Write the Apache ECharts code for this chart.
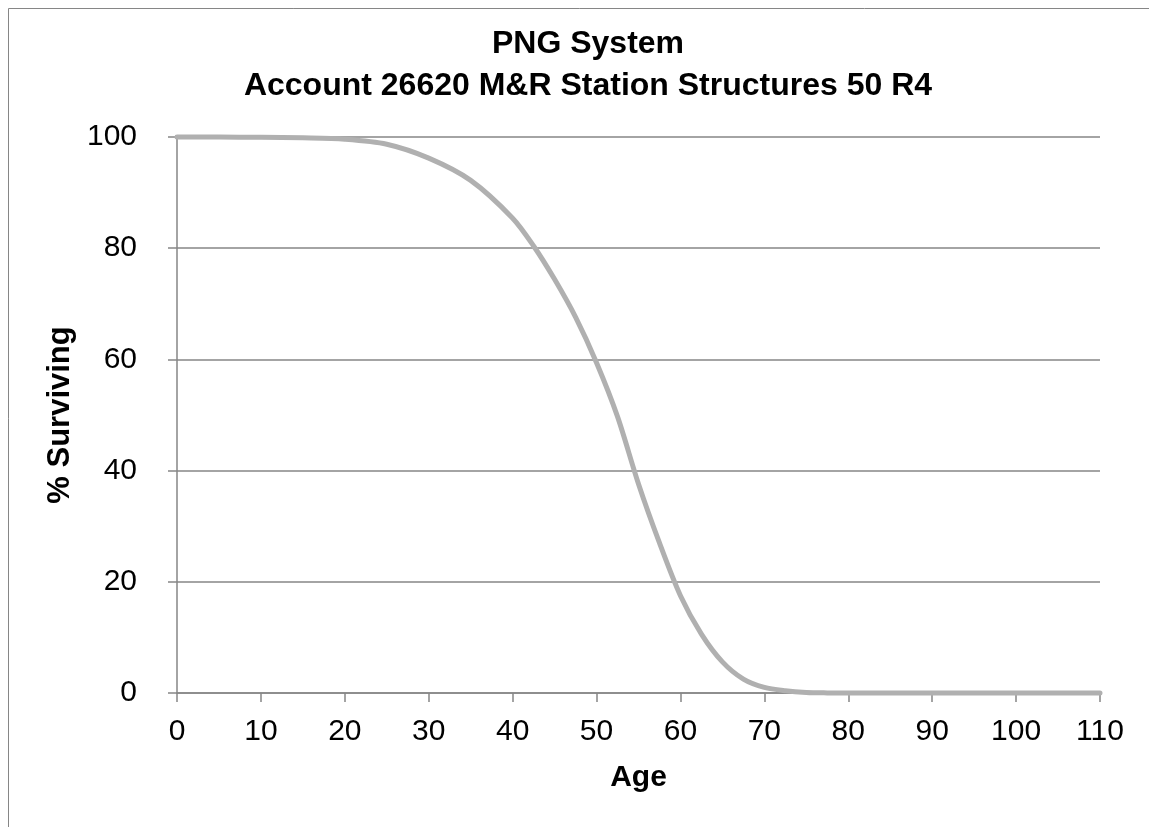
<!DOCTYPE html>
<html>
<head>
<meta charset="utf-8">
<title>PNG System - Survivor Curve</title>
<script src="https://cdn.jsdelivr.net/npm/echarts@6/dist/echarts.min.js"></script>
<style>
  html, body { margin: 0; padding: 0; background: #fff; }
  #chart { width: 1149px; height: 827px; }
</style>
</head>
<body>
<div id="chart"></div>
<script>
// age (years) and percent surviving
var ages = [0, 5, 10, 15, 20, 25, 30, 35, 40, 42.5, 45, 47.5, 50, 52.5, 55, 57.5, 60, 62.5, 65, 67.5, 70, 72.5, 75, 77.5, 80, 85, 90, 95, 100, 105, 110];
var surviving = [100, 99.98, 99.95, 99.85, 99.6, 98.7, 96.2, 92.2, 85.4, 80.4, 74.4, 67.6, 59.4, 49.7, 37.6, 27, 17.5, 10.6, 5.6, 2.5, 1, 0.4, 0.1, 0.02, 0, 0, 0, 0, 0, 0, 0];
var xTicks = [0, 110, 10];
var yTicks = [0, 100, 20];

var titleLines = ['PNG System', 'Account 26620 M&R Station Structures 50 R4'];

var points = [];
for (var i = 0; i < ages.length; i++) {
	points.push([ages[i], surviving[i]]);
}

var gray = '#868686';
var fontFam = '"Liberation Sans", Arial, sans-serif';

var chart = echarts.init(document.getElementById('chart'));
chart.setOption({
	animation: false,
	backgroundColor: '#fff',
	title: {
		text: titleLines.join('\n'),
		left: 583,
		textAlign: 'center',
		top: 18,
		textStyle: {
			fontFamily: fontFam,
			fontWeight: 'bold',
			fontSize: 32,
			lineHeight: 42,
			color: '#000'
		}
	},
	graphic: [{
		type: 'rect',
		shape: { x: 8.5, y: 8.5, width: 1200, height: 900 },
		style: { fill: 'none', stroke: gray, lineWidth: 1 },
		silent: true
	}],
	grid: {
		left: 177,
		right: 49,
		top: 137,
		bottom: 134,
		containLabel: false
	},
	xAxis: {
		type: 'value',
		min: xTicks[0],
		max: xTicks[1],
		interval: xTicks[2],
		name: 'Age',
		nameLocation: 'middle',
		nameGap: 70,
		nameTextStyle: { fontFamily: fontFam, fontWeight: 'bold', fontSize: 30, color: '#000' },
		axisLine: { show: true, lineStyle: { color: gray, width: 1.5 } },
		axisTick: { show: true, inside: false, length: 9, lineStyle: { color: gray, width: 1.5 } },
		axisLabel: { margin: 24, fontFamily: fontFam, fontSize: 30, color: '#000' },
		splitLine: { show: false }
	},
	yAxis: {
		type: 'value',
		min: yTicks[0],
		max: yTicks[1],
		interval: yTicks[2],
		name: '% Surviving',
		nameLocation: 'middle',
		nameGap: 99,
		nameTextStyle: { fontFamily: fontFam, fontWeight: 'bold', fontSize: 31, color: '#000' },
		axisLine: { show: true, lineStyle: { color: gray, width: 1.5 } },
		axisTick: { show: true, inside: false, length: 9, lineStyle: { color: gray, width: 1.5 } },
		axisLabel: { margin: 40, fontFamily: fontFam, fontSize: 30, color: '#000' },
		splitLine: { show: true, lineStyle: { color: gray, width: 1.5 } }
	},
	series: [{
		type: 'line',
		data: points,
		smooth: 0.3,
		showSymbol: false,
		symbol: 'none',
		clip: false,
		lineStyle: { color: '#b0b0b0', width: 5, cap: 'round' }
	}]
});
</script>
</body>
</html>
